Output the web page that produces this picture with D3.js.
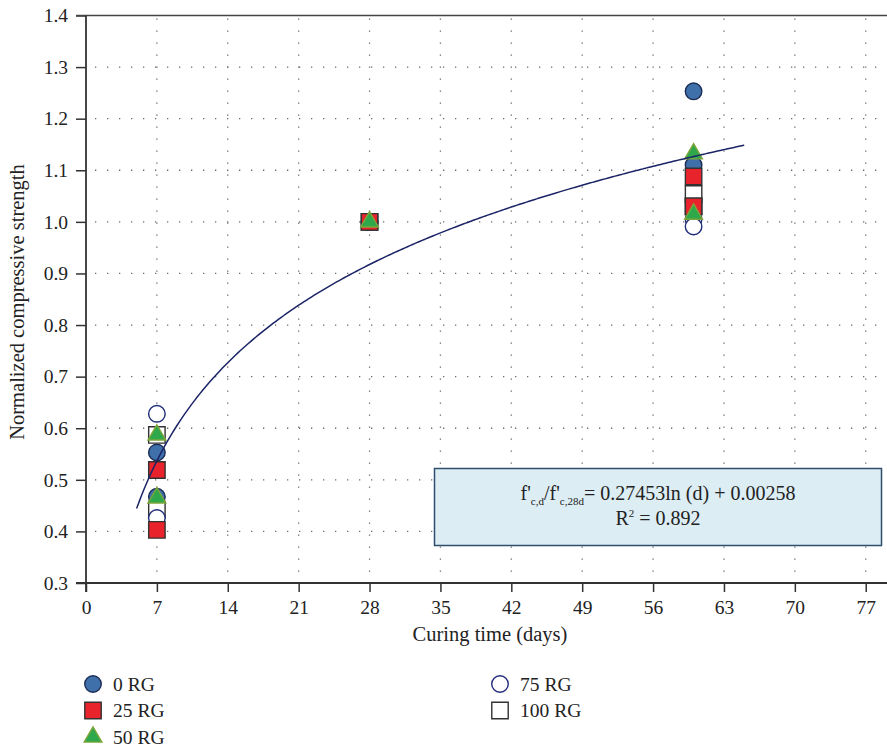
<!DOCTYPE html>
<html>
<head>
<meta charset="utf-8">
<script src="https://cdn.jsdelivr.net/npm/d3@7"></script>
<style>
  html, body { margin: 0; padding: 0; background: #fff; }
  svg { display: block; font-family: 'Liberation Serif', 'DejaVu Serif', serif; }
</style>
</head>
<body>
<svg id="chart" width="887" height="748"></svg>
<script>
'use strict'

// curing days where specimens were tested
var days = [7, 28, 60]

// normalized strength, two mixes per RG level at every age
var rg0 = [[7, 0.553], [7, 0.467], [28, 1.0], [60, 1.253], [60, 1.110]]
var rg25 = [[7, 0.519], [7, 0.403], [28, 1.0], [60, 1.088], [60, 1.030]]
var rg50 = [[7, 0.587], [7, 0.465], [28, 1.0], [60, 1.132], [60, 1.015]]
var rg75 = [[7, 0.628], [7, 0.426], [28, 1.0], [60, 1.005], [60, 0.991]]
var rg100 = [[7, 0.587], [7, 0.442], [28, 1.0], [60, 1.054], [60, 1.030]]

var xTicks = [0, 7, 14, 21, 28, 35, 42, 49, 56, 63, 70, 77]
var yTicks = [0.3, 0.4, 0.5, 0.6, 0.7, 0.8, 0.9, 1.0, 1.1, 1.2, 1.3, 1.4]

// log fit shown in the box
var fitA = 0.27453
var fitB = 0.00258
var fitR2 = 0.892
var fitFrom = 5
var fitTo = 65

var series = [
  { name: '0 RG', data: rg0, symbol: d3.symbolCircle, size: 215, fill: '#3f70aa', stroke: '#1c2d55', col: 0, row: 0 },
  { name: '100 RG', data: rg100, symbol: d3.symbolSquare, size: 270, fill: '#ffffff', stroke: '#333333', col: 1, row: 1 },
  { name: '75 RG', data: rg75, symbol: d3.symbolCircle, size: 215, fill: '#ffffff', stroke: '#1f2c78', col: 1, row: 0 },
  { name: '25 RG', data: rg25, symbol: d3.symbolSquare, size: 270, fill: '#e8232b', stroke: '#333333', col: 0, row: 1 },
  { name: '50 RG', data: rg50, symbol: d3.symbolTriangle, size: 135, fill: '#2ea84a', stroke: '#7da63a', col: 0, row: 2 }
]

var svg = d3.select('#chart')

var x = d3.scaleLinear().domain([0, 79.1]).range([86, 887])
var y = d3.scaleLinear().domain([0.3, 1.4]).range([583, 15.5])

// dotted grid
var grid = svg.append('g').attr('class', 'grid')
  .attr('stroke', '#6a6a6a')
  .attr('stroke-width', 1.3)
  .attr('stroke-dasharray', '1.3,10.7')

grid.selectAll('line.v')
  .data(xTicks.filter((d) => d > 0))
  .enter().append('line')
    .attr('class', 'v')
    .attr('x1', (d) => x(d)).attr('x2', (d) => x(d))
    .attr('y1', y(1.4) + 3).attr('y2', y(0.3))

grid.selectAll('line.h')
  .data(yTicks.filter((d) => d > 0.3 && d < 1.4))
  .enter().append('line')
    .attr('class', 'h')
    .attr('x1', x(0) + 9).attr('x2', 887)
    .attr('y1', (d) => y(d)).attr('y2', (d) => y(d))

// axes
var xAxis = d3.axisBottom(x)
  .tickValues(xTicks)
  .tickSize(9)
  .tickPadding(8)
  .tickFormat(d3.format('d'))

var yAxis = d3.axisLeft(y)
  .tickValues(yTicks)
  .tickSize(10)
  .tickPadding(8)
  .tickFormat(d3.format('.1f'))

var gx = svg.append('g')
  .attr('transform', 'translate(0,' + y(0.3) + ')')
  .call(xAxis)

var gy = svg.append('g')
  .attr('transform', 'translate(' + x(0) + ',0)')
  .call(yAxis)

;[gx, gy].forEach((g) => {
  g.select('.domain').remove()
  g.selectAll('.tick line').attr('stroke', '#333').attr('stroke-width', 1.5)
  g.selectAll('.tick text')
    .attr('fill', '#222')
    .style('font-size', '19.5px')
    .style('font-family', "'Liberation Serif', serif")
})

// frame lines
svg.append('line')
  .attr('x1', x(0) - 10).attr('x2', 887)
  .attr('y1', y(0.3)).attr('y2', y(0.3))
  .attr('stroke', '#333').attr('stroke-width', 2)
svg.append('line')
  .attr('x1', x(0) - 10).attr('x2', 887)
  .attr('y1', y(1.4)).attr('y2', y(1.4))
  .attr('stroke', '#444').attr('stroke-width', 1.5)
svg.append('line')
  .attr('x1', x(0)).attr('x2', x(0))
  .attr('y1', y(1.4)).attr('y2', y(0.3) + 9)
  .attr('stroke', '#333').attr('stroke-width', 1.8)

// axis titles
svg.append('text')
  .attr('x', 490).attr('y', 641)
  .attr('text-anchor', 'middle')
  .attr('fill', '#222')
  .style('font-size', '20.5px')
  .text('Curing time (days)')

svg.append('text')
  .attr('transform', 'translate(24,302) rotate(-90)')
  .attr('text-anchor', 'middle')
  .attr('fill', '#222')
  .style('font-size', '20.5px')
  .text('Normalized compressive strength')

// fitted curve
var fitDays = d3.range(fitFrom, fitTo + 0.01, 0.25)
var line = d3.line()
  .x((d) => x(d))
  .y((d) => y(fitA * Math.log(d) + fitB))
  .curve(d3.curveBasis)

// equation box
var box = svg.append('g')
box.append('rect')
  .attr('x', 434.5).attr('y', 468.5)
  .attr('width', 447).attr('height', 77)
  .attr('fill', '#dcedf4')
  .attr('stroke', '#2f4d6c')
  .attr('stroke-width', 1.5)

var eq = box.append('text')
  .attr('x', 658).attr('y', 500)
  .attr('text-anchor', 'middle')
  .attr('fill', '#222')
  .style('font-size', '20px')
eq.append('tspan').text("f'")
eq.append('tspan').attr('dy', 5).style('font-size', '11px').text('c,d')
eq.append('tspan').attr('dy', -5).text("/f'")
eq.append('tspan').attr('dy', 5).style('font-size', '11px').text('c,28d')
eq.append('tspan').attr('dy', -5).text('= ' + fitA + 'ln (d) + ' + fitB.toFixed(5))

var r2 = box.append('text')
  .attr('x', 658).attr('y', 525)
  .attr('text-anchor', 'middle')
  .attr('fill', '#222')
  .style('font-size', '20px')
r2.append('tspan').text('R')
r2.append('tspan').attr('dy', -8).style('font-size', '11px').text('2')
r2.append('tspan').attr('dy', 8).text(' = ' + fitR2)

// markers
var marks = svg.append('g').attr('class', 'marks')
series.forEach((s) => {
  marks.append('g')
    .selectAll('path')
    .data(s.data)
    .enter().append('path')
      .attr('d', d3.symbol().type(s.symbol).size(s.size))
      .attr('transform', (d) => 'translate(' + x(d[0]) + ',' + y(d[1]) + ')')
      .attr('fill', s.fill)
      .attr('stroke', s.stroke)
      .attr('stroke-width', 1.4)
})

svg.append('path')
  .datum(fitDays)
  .attr('d', line)
  .attr('fill', 'none')
  .attr('stroke', '#1b2466')
  .attr('stroke-width', 1.5)

// legend
var legend = svg.append('g')
  .selectAll('g')
  .data(series)
  .enter().append('g')
    .attr('transform', (d) => 'translate(' + (93 + d.col * 407) + ',' + (684 + d.row * 26.5) + ')')

legend.append('path')
  .attr('d', (d) => d3.symbol().type(d.symbol).size(d.size)())
  .attr('fill', (d) => d.fill)
  .attr('stroke', (d) => d.stroke)
  .attr('stroke-width', 1.4)

legend.append('text')
  .attr('x', 20).attr('dy', '0.35em')
  .attr('fill', '#222')
  .style('font-size', '19.5px')
  .text((d) => d.name)
</script>
</body>
</html>
